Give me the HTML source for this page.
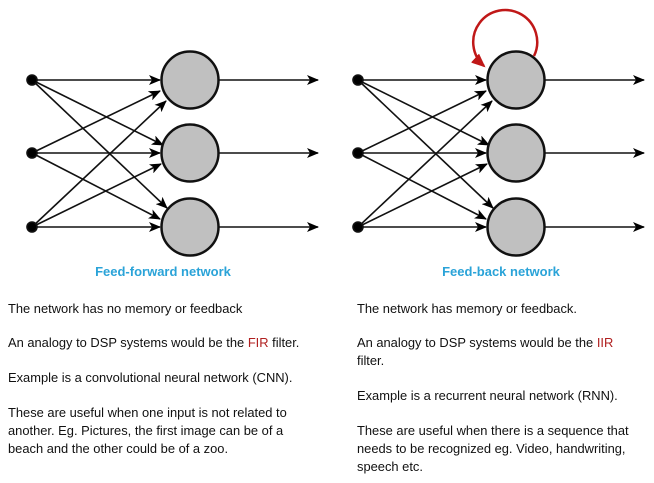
<!DOCTYPE html>
<html><head><meta charset="utf-8"><style>
body{margin:0;background:#fff;width:654px;height:483px;overflow:hidden}
svg{display:block}
text{font-family:"Liberation Sans",sans-serif;font-size:12.9px;fill:#111}
.t{font-weight:bold;fill:#2aa3d8;font-size:13px}
</style></head><body>
<svg width="654" height="483" viewBox="0 0 654 483">
<defs>
<marker id="a" markerWidth="12" markerHeight="10" refX="11" refY="5" orient="auto" markerUnits="userSpaceOnUse"><path d="M0,0 L12,5 L0,10 L3,5 z" fill="#000"/></marker>
<marker id="r" markerWidth="14" markerHeight="12" refX="12" refY="6" orient="auto" markerUnits="userSpaceOnUse"><path d="M0,0 L14,6 L0,12 z" fill="#c01818"/></marker>
</defs>
<g stroke="#111" stroke-width="1.6" fill="none">
<g id="net">
<line x1="32" y1="80" x2="160" y2="80" marker-end="url(#a)"/>
<line x1="32" y1="80" x2="163" y2="145" marker-end="url(#a)"/>
<line x1="32" y1="80" x2="167" y2="208" marker-end="url(#a)"/>
<line x1="32" y1="153" x2="160" y2="91" marker-end="url(#a)"/>
<line x1="32" y1="153" x2="160" y2="153" marker-end="url(#a)"/>
<line x1="32" y1="153" x2="160" y2="219" marker-end="url(#a)"/>
<line x1="32" y1="227" x2="166" y2="101" marker-end="url(#a)"/>
<line x1="32" y1="227" x2="161" y2="164" marker-end="url(#a)"/>
<line x1="32" y1="227" x2="160" y2="227" marker-end="url(#a)"/>
<line x1="219" y1="80" x2="318" y2="80" marker-end="url(#a)"/>
<line x1="219" y1="153" x2="318" y2="153" marker-end="url(#a)"/>
<line x1="219" y1="227" x2="318" y2="227" marker-end="url(#a)"/>
<circle cx="32" cy="80" r="5" fill="#000"/>
<circle cx="32" cy="153" r="5" fill="#000"/>
<circle cx="32" cy="227" r="5" fill="#000"/>
<circle cx="190" cy="80" r="28.5" fill="#c0c0c0" stroke-width="2.5"/>
<circle cx="190" cy="153" r="28.5" fill="#c0c0c0" stroke-width="2.5"/>
<circle cx="190" cy="227" r="28.5" fill="#c0c0c0" stroke-width="2.5"/>
</g>
<use href="#net" transform="translate(326,0)"/>
<path d="M534,56 A32,32 0 1 0 484,66" stroke="#c01818" stroke-width="2.5" marker-end="url(#r)"/>
</g>
<text class="t" x="163" y="276" text-anchor="middle">Feed-forward network</text>
<text class="t" x="501" y="276" text-anchor="middle">Feed-back network</text>
<g>
<text x="8" y="313">The network has no memory or feedback</text>
<text x="8" y="347">An analogy to DSP systems would be the <tspan style="fill:#b02020">FIR</tspan> filter.</text>
<text x="8" y="382">Example is a convolutional neural network (CNN).</text>
<text x="8" y="417">These are useful when one input is not related to</text>
<text x="8" y="435">another. Eg. Pictures, the first image can be of a</text>
<text x="8" y="453">beach and the other could be of a zoo.</text>
<text x="357" y="313">The network has memory or feedback.</text>
<text x="357" y="347">An analogy to DSP systems would be the <tspan style="fill:#b02020">IIR</tspan></text>
<text x="357" y="365">filter.</text>
<text x="357" y="400">Example is a recurrent neural network (RNN).</text>
<text x="357" y="435">These are useful when there is a sequence that</text>
<text x="357" y="453">needs to be recognized eg. Video, handwriting,</text>
<text x="357" y="471">speech etc.</text>
</g>
</svg>
</body></html>
